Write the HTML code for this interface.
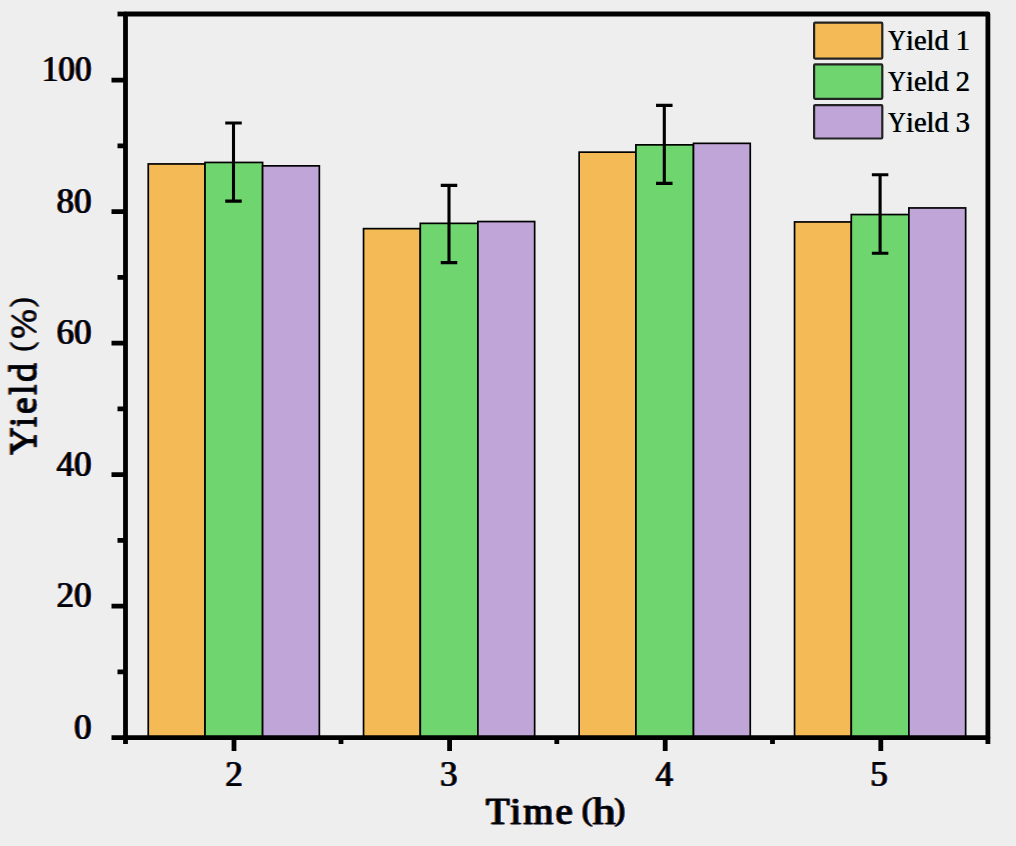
<!DOCTYPE html>
<html>
<head>
<meta charset="utf-8">
<style>
html,body{margin:0;padding:0;background:#eeeeee;}
body{width:1016px;height:846px;overflow:hidden;}
svg{display:block;}
text{font-family:"Liberation Serif",serif;fill:#000;stroke:#000;}
</style>
</head>
<body>
<svg width="1016" height="846" viewBox="0 0 1016 846">
<defs>
<filter id="ct" x="-10%" y="-10%" width="120%" height="120%" color-interpolation-filters="sRGB">
<feOffset in="SourceAlpha" dx="-1.1" result="l2"/>
<feFlood flood-color="#f0b048" result="c1"/>
<feComposite in="c1" in2="l2" operator="in" result="o2"/>
<feOffset in="SourceAlpha" dx="1.1" result="r2"/>
<feFlood flood-color="#58c0ff" result="c2"/>
<feComposite in="c2" in2="r2" operator="in" result="b2"/>
<feOffset in="SourceAlpha" dx="-0.55" result="l1"/>
<feFlood flood-color="#b85a10" result="c3"/>
<feComposite in="c3" in2="l1" operator="in" result="o1"/>
<feOffset in="SourceAlpha" dx="0.55" result="r1"/>
<feFlood flood-color="#1048b0" result="c4"/>
<feComposite in="c4" in2="r1" operator="in" result="b1"/>
<feMerge><feMergeNode in="o2"/><feMergeNode in="b2"/><feMergeNode in="o1"/><feMergeNode in="b1"/><feMergeNode in="SourceGraphic"/></feMerge>
</filter>
<filter id="ct2" x="-10%" y="-10%" width="120%" height="120%" color-interpolation-filters="sRGB">
<feOffset in="SourceAlpha" dx="-0.7" result="l2"/>
<feFlood flood-color="#f0b048" result="c1"/>
<feComposite in="c1" in2="l2" operator="in" result="o2"/>
<feOffset in="SourceAlpha" dx="0.7" result="r2"/>
<feFlood flood-color="#58c0ff" result="c2"/>
<feComposite in="c2" in2="r2" operator="in" result="b2"/>
<feOffset in="SourceAlpha" dx="-0.35" result="l1"/>
<feFlood flood-color="#b85a10" result="c3"/>
<feComposite in="c3" in2="l1" operator="in" result="o1"/>
<feOffset in="SourceAlpha" dx="0.35" result="r1"/>
<feFlood flood-color="#1048b0" result="c4"/>
<feComposite in="c4" in2="r1" operator="in" result="b1"/>
<feMerge><feMergeNode in="o2"/><feMergeNode in="b2"/><feMergeNode in="o1"/><feMergeNode in="b1"/><feMergeNode in="SourceGraphic"/></feMerge>
</filter>
</defs>
<rect x="0" y="0" width="1016" height="846" fill="#eeeeee"/>
<g stroke="#000" stroke-width="1.7">
<rect x="148.25" y="163.95" width="56.75" height="573.65" fill="#f3ba55"/>
<rect x="205.00" y="162.45" width="57.60" height="575.15" fill="#6fd56f"/>
<rect x="262.60" y="165.85" width="56.75" height="571.75" fill="#c0a5d8"/>
<rect x="363.55" y="228.65" width="56.75" height="508.95" fill="#f3ba55"/>
<rect x="420.30" y="223.35" width="57.60" height="514.25" fill="#6fd56f"/>
<rect x="477.90" y="221.55" width="56.75" height="516.05" fill="#c0a5d8"/>
<rect x="579.15" y="152.15" width="56.75" height="585.45" fill="#f3ba55"/>
<rect x="635.90" y="144.85" width="57.60" height="592.75" fill="#6fd56f"/>
<rect x="693.50" y="143.35" width="56.75" height="594.25" fill="#c0a5d8"/>
<rect x="794.55" y="221.95" width="56.75" height="515.65" fill="#f3ba55"/>
<rect x="851.30" y="214.55" width="57.60" height="523.05" fill="#6fd56f"/>
<rect x="908.90" y="207.95" width="56.75" height="529.65" fill="#c0a5d8"/>
</g>
<g stroke="#000" stroke-width="3.1" fill="none">
<path d="M233.5 123.0V201.1M225.25 123.0H241.75M225.25 201.1H241.75"/>
<path d="M449.0 185.4V262.6M440.75 185.4H457.25M440.75 262.6H457.25"/>
<path d="M664.3 105.4V183.4M656.05 105.4H672.55M656.05 183.4H672.55"/>
<path d="M880.1 174.7V253.3M871.85 174.7H888.35M871.85 253.3H888.35"/>
</g>
<g stroke="#000" stroke-width="4.8" fill="none">
<path d="M125.5 14.0H987.9V737.7H125.5Z" stroke-linejoin="round"/>
<path d="M117.5 14.0H126"/>
<path d="M111.5 737.60H126M111.5 606.10H126M111.5 474.60H126M111.5 343.10H126M111.5 211.60H126M111.5 80.10H126"/>
<path d="M117.5 671.85H126M117.5 540.35H126M117.5 408.85H126M117.5 277.35H126M117.5 145.85H126"/>
<path d="M234.0 737V751M449.6 737V751M665.2 737V751M880.8 737V751"/>
<path d="M125.5 737V744M341.0 737V744M556.8 737V744M772.5 737V744M987.9 737V744"/>
</g>
<g filter="url(#ct)">
<g font-size="35" text-anchor="end" stroke-width="0">
<text x="91.5" y="738.6">0</text><text x="91.5" y="607.1">20</text><text x="91.5" y="475.6">40</text><text x="91.5" y="344.1">60</text><text x="91.5" y="212.6">80</text><text x="91.5" y="81.1" textLength="49.7" lengthAdjust="spacingAndGlyphs">100</text>
</g>
<g font-size="35" text-anchor="middle" stroke-width="0">
<text x="234.0" y="786">2</text><text x="448.7" y="786">3</text><text x="664.2" y="786">4</text><text x="879.1" y="786">5</text>
</g>
<g font-size="38.5" stroke-width="0.5">
<text x="486" y="824.4" textLength="86.5" lengthAdjust="spacing">Time</text>
<text x="581.8" y="819.5" font-size="32.5" stroke-width="0.2">(</text>
<text x="592.5" y="824.4" textLength="23" lengthAdjust="spacingAndGlyphs">h</text>
<text x="614.3" y="819.5" font-size="32.5" stroke-width="0.2">)</text>
</g>
<g font-size="38.5" stroke-width="0.5" transform="translate(35.8,0) rotate(-90)">
<text x="-455" y="0" textLength="92" lengthAdjust="spacing">Yield</text>
<text x="-351.8" y="-4.45" font-size="31" stroke-width="0">(</text>
<text x="-339" y="0" font-size="36" stroke-width="0">%</text>
<text x="-307.6" y="-4.45" font-size="31" stroke-width="0">)</text>
</g>
</g>
<g stroke="#222" stroke-width="2.2">
<rect x="814.1" y="22.7" width="68.2" height="35.9" rx="1" fill="#f3ba55"/>
<rect x="814.1" y="64.4" width="68.2" height="34.4" rx="1" fill="#6fd56f"/>
<rect x="814.1" y="105.1" width="68.2" height="33.4" rx="1" fill="#c0a5d8"/>
</g>
<g font-size="28.5" stroke-width="0" filter="url(#ct2)">
<text x="888.2" y="49.9"><tspan textLength="17.5" lengthAdjust="spacingAndGlyphs">Y</tspan><tspan x="906">ield 1</tspan></text>
<text x="888.2" y="91.4"><tspan textLength="17.5" lengthAdjust="spacingAndGlyphs">Y</tspan><tspan x="906">ield 2</tspan></text>
<text x="888.2" y="132.0"><tspan textLength="17.5" lengthAdjust="spacingAndGlyphs">Y</tspan><tspan x="906">ield 3</tspan></text>
</g>
</svg>
</body>
</html>
